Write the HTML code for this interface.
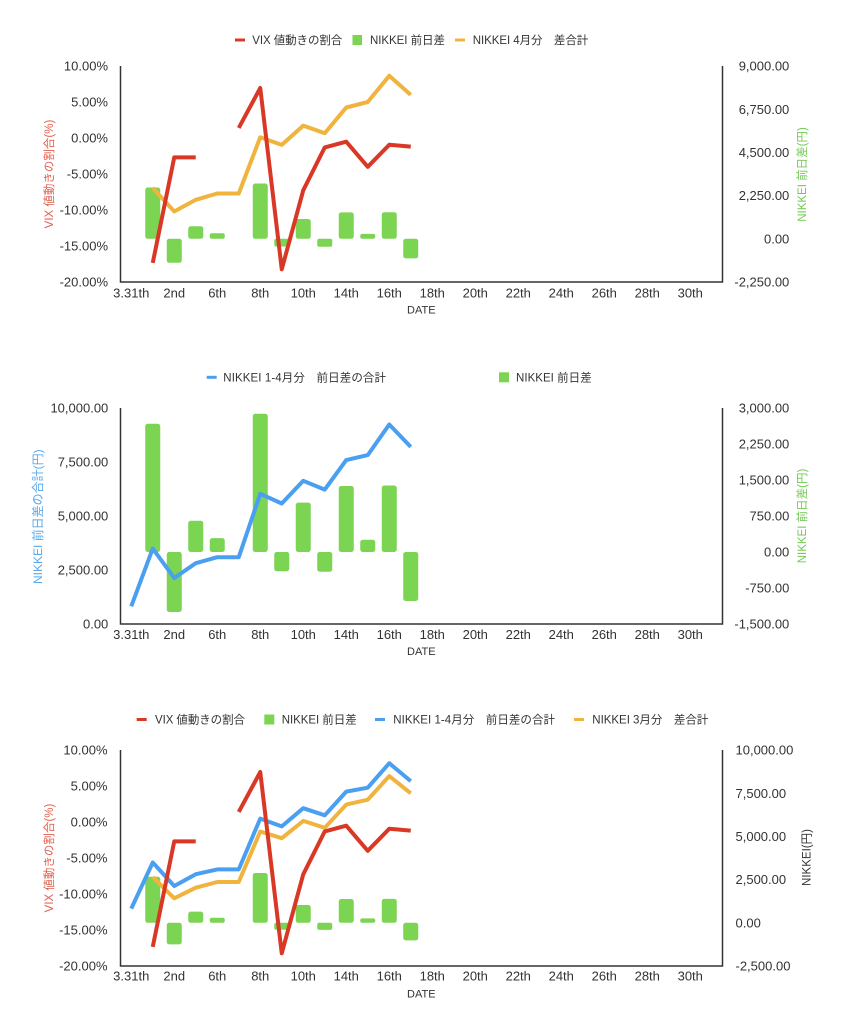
<!DOCTYPE html>
<html>
<head>
<meta charset="utf-8">
<style>
  html,body{margin:0;padding:0;background:#fff;}
  svg{display:block;}
  text{font-family:"Liberation Sans","Noto Sans CJK JP",sans-serif;}
  .tk{font-size:13px;fill:#333;}
  .lg{font-size:11.5px;fill:#333;}
  .dt{font-size:11px;fill:#333;}
  .ax{stroke:#333;stroke-width:1.5;fill:none;}
  .bar{fill:#7bd452;}
  .ln{fill:none;stroke-width:4;stroke-linejoin:round;stroke-linecap:butt;}
  .red{stroke:#d93826;}
  .org{stroke:#f0b43e;}
  .blu{stroke:#4b9ff0;}
</style>
</head>
<body>
<svg width="845" height="1024" viewBox="0 0 845 1024" xmlns="http://www.w3.org/2000/svg">
<rect width="845" height="1024" fill="#fff"/>

<!-- ================= CHART 1 ================= -->
<!-- legend -->
<rect x="235" y="38.5" width="10" height="3" fill="#d93826"/>
<text class="lg" x="252.3" y="44" textLength="90">VIX 値動きの割合</text>
<rect x="352.5" y="35" width="9.5" height="10" fill="#7bd452"/>
<text class="lg" x="370" y="44" textLength="75">NIKKEI 前日差</text>
<rect x="455" y="38.5" width="10" height="3" fill="#f0b43e"/>
<text class="lg" x="472.7" y="44" textLength="115.6">NIKKEI 4月分　差合計</text>

<!-- left ticks -->
<g class="tk" text-anchor="end">
<text x="108" y="70.6">10.00%</text>
<text x="108" y="106.6">5.00%</text>
<text x="108" y="142.6">0.00%</text>
<text x="108" y="178.6">-5.00%</text>
<text x="108" y="214.6">-10.00%</text>
<text x="108" y="250.6">-15.00%</text>
<text x="108" y="286.6">-20.00%</text>
</g>
<!-- right ticks -->
<g class="tk" text-anchor="end">
<text x="789.3" y="70.6">9,000.00</text>
<text x="789.3" y="113.8">6,750.00</text>
<text x="789.3" y="157">4,500.00</text>
<text x="789.3" y="200.2">2,250.00</text>
<text x="789.3" y="243.4">0.00</text>
<text x="789.3" y="286.6">-2,250.00</text>
</g>
<!-- titles -->
<text transform="translate(49,174) rotate(-90)" x="0" y="4" text-anchor="middle" style="font-size:11.5px;fill:#e0604f">VIX 値動きの割合(%)</text>
<text transform="translate(802,174.5) rotate(-90)" x="0" y="4" text-anchor="middle" style="font-size:11.5px;fill:#74c855">NIKKEI 前日差(円)</text>

<!-- x labels -->
<g class="tk" text-anchor="middle">
<text x="131.25" y="297.3">3.31th</text>
<text x="174.25" y="297.3">2nd</text>
<text x="217.25" y="297.3">6th</text>
<text x="260.25" y="297.3">8th</text>
<text x="303.25" y="297.3">10th</text>
<text x="346.25" y="297.3">14th</text>
<text x="389.25" y="297.3">16th</text>
<text x="432.25" y="297.3">18th</text>
<text x="475.25" y="297.3">20th</text>
<text x="518.25" y="297.3">22th</text>
<text x="561.25" y="297.3">24th</text>
<text x="604.25" y="297.3">26th</text>
<text x="647.25" y="297.3">28th</text>
<text x="690.25" y="297.3">30th</text>
</g>
<text class="dt" x="421.3" y="313.3" text-anchor="middle">DATE</text>

<!-- bars -->
<g class="bar">
<rect x="145.25" y="187.5" width="15" height="51.3" rx="2.5"/>
<rect x="166.75" y="238.8" width="15" height="24" rx="2.5"/>
<rect x="188.25" y="226.3" width="15" height="12.5" rx="2.5"/>
<rect x="209.75" y="233.2" width="15" height="5.6" rx="2"/>
<rect x="252.75" y="183.5" width="15" height="55.3" rx="2.5"/>
<rect x="274.25" y="238.8" width="15" height="7.7" rx="2"/>
<rect x="295.75" y="219" width="15" height="19.8" rx="2.5"/>
<rect x="317.25" y="238.8" width="15" height="7.9" rx="2"/>
<rect x="338.75" y="212.4" width="15" height="26.4" rx="2.5"/>
<rect x="360.25" y="233.9" width="15" height="4.9" rx="2"/>
<rect x="381.75" y="212.2" width="15" height="26.6" rx="2.5"/>
<rect x="403.25" y="238.8" width="15" height="19.6" rx="2.5"/>
</g>
<!-- lines -->
<polyline class="ln org" points="152.75,187.9 174.25,211.5 195.75,199.8 217.25,193.5 238.75,193.5 260.25,137.3 281.75,144.9 303.25,125.6 324.75,133.2 346.25,107.5 367.75,102 389.25,75.8 410.75,94.9"/>
<polyline class="ln red" points="152.75,262.9 174.25,157.4 195.75,157.4"/>
<polyline class="ln red" points="238.75,127.9 260.25,88 281.75,269.3 303.25,190.3 324.75,147.4 346.25,141.7 367.75,166.8 389.25,144.8 410.75,146.6"/>
<!-- axes -->
<path class="ax" d="M120.5,66 V282 H722.5 V66"/>

<!-- ================= CHART 2 ================= -->
<rect x="206.7" y="375.8" width="10" height="3" fill="#4b9ff0"/>
<text class="lg" x="223.3" y="381.3" textLength="162.7">NIKKEI 1-4月分　前日差の合計</text>
<rect x="499" y="372.3" width="10" height="10" fill="#7bd452"/>
<text class="lg" x="516" y="381.3" textLength="75.7">NIKKEI 前日差</text>

<g class="tk" text-anchor="end">
<text x="108.3" y="412.6">10,000.00</text>
<text x="108.3" y="466.6">7,500.00</text>
<text x="108.3" y="520.6">5,000.00</text>
<text x="108.3" y="574.6">2,500.00</text>
<text x="108.3" y="628.6">0.00</text>
</g>
<g class="tk" text-anchor="end">
<text x="789.3" y="412.6">3,000.00</text>
<text x="789.3" y="448.6">2,250.00</text>
<text x="789.3" y="484.6">1,500.00</text>
<text x="789.3" y="520.6">750.00</text>
<text x="789.3" y="556.6">0.00</text>
<text x="789.3" y="592.6">-750.00</text>
<text x="789.3" y="628.6">-1,500.00</text>
</g>
<text transform="translate(38,516.7) rotate(-90)" x="0" y="4" text-anchor="middle" style="font-size:12px;fill:#5aa9ec">NIKKEI 前日差の合計(円)</text>
<text transform="translate(802,516) rotate(-90)" x="0" y="4" text-anchor="middle" style="font-size:11.5px;fill:#74c855">NIKKEI 前日差(円)</text>

<g class="tk" text-anchor="middle">
<text x="131.25" y="638.9">3.31th</text>
<text x="174.25" y="638.9">2nd</text>
<text x="217.25" y="638.9">6th</text>
<text x="260.25" y="638.9">8th</text>
<text x="303.25" y="638.9">10th</text>
<text x="346.25" y="638.9">14th</text>
<text x="389.25" y="638.9">16th</text>
<text x="432.25" y="638.9">18th</text>
<text x="475.25" y="638.9">20th</text>
<text x="518.25" y="638.9">22th</text>
<text x="561.25" y="638.9">24th</text>
<text x="604.25" y="638.9">26th</text>
<text x="647.25" y="638.9">28th</text>
<text x="690.25" y="638.9">30th</text>
</g>
<text class="dt" x="421.3" y="655" text-anchor="middle">DATE</text>

<g class="bar">
<rect x="145.25" y="423.8" width="15" height="128.2" rx="2.5"/>
<rect x="166.75" y="552" width="15" height="60" rx="2.5"/>
<rect x="188.25" y="520.8" width="15" height="31.2" rx="2.5"/>
<rect x="209.75" y="538.1" width="15" height="13.9" rx="2.5"/>
<rect x="252.75" y="413.8" width="15" height="138.2" rx="2.5"/>
<rect x="274.25" y="552" width="15" height="19.2" rx="2.5"/>
<rect x="295.75" y="502.6" width="15" height="49.4" rx="2.5"/>
<rect x="317.25" y="552" width="15" height="19.7" rx="2.5"/>
<rect x="338.75" y="486" width="15" height="66" rx="2.5"/>
<rect x="360.25" y="539.8" width="15" height="12.2" rx="2.5"/>
<rect x="381.75" y="485.5" width="15" height="66.5" rx="2.5"/>
<rect x="403.25" y="552" width="15" height="49" rx="2.5"/>
</g>
<polyline class="ln blu" points="131.25,606.3 152.75,548.6 174.25,578 195.75,563.2 217.25,557.2 238.75,557.2 260.25,493.8 281.75,503.5 303.25,480.8 324.75,489.6 346.25,460.1 367.75,455.1 389.25,424.5 410.75,446.9"/>
<path class="ax" d="M120.5,408 V624 H722.5 V408"/>

<!-- ================= CHART 3 ================= -->
<rect x="136.7" y="718" width="10" height="3" fill="#d93826"/>
<text class="lg" x="155" y="723.5" textLength="90">VIX 値動きの割合</text>
<rect x="264.3" y="714.5" width="10" height="10" fill="#7bd452"/>
<text class="lg" x="281.7" y="723.5" textLength="75">NIKKEI 前日差</text>
<rect x="375" y="718" width="10" height="3" fill="#4b9ff0"/>
<text class="lg" x="393.3" y="723.5" textLength="161.7">NIKKEI 1-4月分　前日差の合計</text>
<rect x="574" y="718" width="10" height="3" fill="#f0b43e"/>
<text class="lg" x="592.3" y="723.5" textLength="116">NIKKEI 3月分　差合計</text>

<g class="tk" text-anchor="end">
<text x="107.5" y="754.6">10.00%</text>
<text x="107.5" y="790.6">5.00%</text>
<text x="107.5" y="826.6">0.00%</text>
<text x="107.5" y="862.6">-5.00%</text>
<text x="107.5" y="898.6">-10.00%</text>
<text x="107.5" y="934.6">-15.00%</text>
<text x="107.5" y="970.6">-20.00%</text>
</g>
<g class="tk" text-anchor="start">
<text x="735.5" y="754.6">10,000.00</text>
<text x="735.5" y="797.8">7,500.00</text>
<text x="735.5" y="841">5,000.00</text>
<text x="735.5" y="884.2">2,500.00</text>
<text x="735.5" y="927.4">0.00</text>
<text x="735.5" y="970.6">-2,500.00</text>
</g>
<text transform="translate(49,858) rotate(-90)" x="0" y="4" text-anchor="middle" style="font-size:11.5px;fill:#e0604f">VIX 値動きの割合(%)</text>
<text transform="translate(806.5,857.5) rotate(-90)" x="0" y="4" text-anchor="middle" style="font-size:11.5px;fill:#333">NIKKEI(円)</text>

<g class="tk" text-anchor="middle">
<text x="131.25" y="980.6">3.31th</text>
<text x="174.25" y="980.6">2nd</text>
<text x="217.25" y="980.6">6th</text>
<text x="260.25" y="980.6">8th</text>
<text x="303.25" y="980.6">10th</text>
<text x="346.25" y="980.6">14th</text>
<text x="389.25" y="980.6">16th</text>
<text x="432.25" y="980.6">18th</text>
<text x="475.25" y="980.6">20th</text>
<text x="518.25" y="980.6">22th</text>
<text x="561.25" y="980.6">24th</text>
<text x="604.25" y="980.6">26th</text>
<text x="647.25" y="980.6">28th</text>
<text x="690.25" y="980.6">30th</text>
</g>
<text class="dt" x="421.3" y="997.3" text-anchor="middle">DATE</text>

<g class="bar">
<rect x="145.25" y="876.7" width="15" height="46.1" rx="2.5"/>
<rect x="166.75" y="922.8" width="15" height="21.6" rx="2.5"/>
<rect x="188.25" y="911.6" width="15" height="11.2" rx="2.5"/>
<rect x="209.75" y="917.8" width="15" height="5" rx="2"/>
<rect x="252.75" y="873" width="15" height="49.8" rx="2.5"/>
<rect x="274.25" y="922.8" width="15" height="6.9" rx="2"/>
<rect x="295.75" y="905" width="15" height="17.8" rx="2.5"/>
<rect x="317.25" y="922.8" width="15" height="7.1" rx="2"/>
<rect x="338.75" y="899" width="15" height="23.8" rx="2.5"/>
<rect x="360.25" y="918.4" width="15" height="4.4" rx="2"/>
<rect x="381.75" y="898.9" width="15" height="23.9" rx="2.5"/>
<rect x="403.25" y="922.8" width="15" height="17.6" rx="2.5"/>
</g>
<polyline class="ln org" points="152.75,877 174.25,898.3 195.75,887.7 217.25,882 238.75,882 260.25,831.5 281.75,838.2 303.25,820.9 324.75,827.8 346.25,804.6 367.75,799.7 389.25,776.1 410.75,793.3"/>
<polyline class="ln blu" points="131.25,908.6 152.75,862.5 174.25,886 195.75,874.2 217.25,869.4 238.75,869.4 260.25,818.6 281.75,826.4 303.25,808.2 324.75,815.3 346.25,791.6 367.75,787.7 389.25,763.2 410.75,781.1"/>
<polyline class="ln red" points="152.75,946.9 174.25,841.4 195.75,841.4"/>
<polyline class="ln red" points="238.75,811.9 260.25,772 281.75,953.3 303.25,874.3 324.75,831.4 346.25,825.7 367.75,850.8 389.25,828.8 410.75,830.6"/>
<path class="ax" d="M120.5,750 V966 H722.5 V750"/>

</svg>
</body>
</html>
